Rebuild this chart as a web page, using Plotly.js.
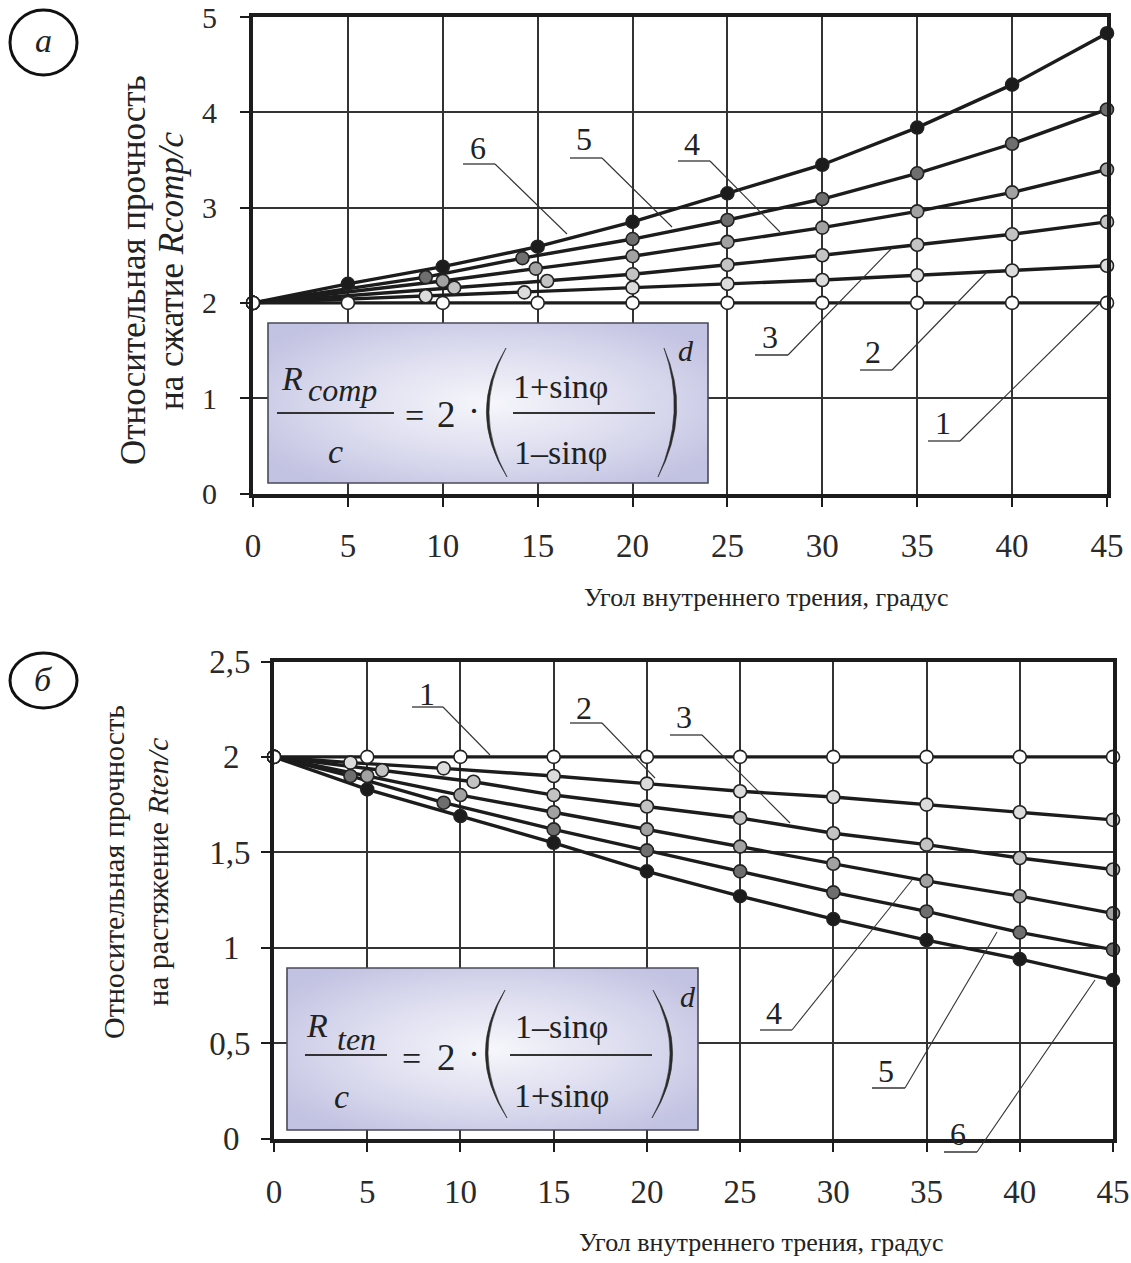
<!DOCTYPE html>
<html>
<head>
<meta charset="utf-8">
<script src="https://cdn.plot.ly/plotly-3.0.1.min.js"></script>
<style>html,body{margin:0;padding:0;background:#fff;}#chart{width:1131px;height:1263px;}</style>
</head>
<body>
<div id="chart"></div>
<script>
// ---------- DATA ----------
const seriesNames = ['1', '2', '3', '4', '5', '6'];
const xTickVals = [0, 5, 10, 15, 20, 25, 30, 35, 40, 45];
const xTickText = ['0', '5', '10', '15', '20', '25', '30', '35', '40', '45'];
const topYTickVals = [0, 1, 2, 3, 4, 5];
const topYTickText = ['0', '1', '2', '3', '4', '5'];
const botYTickVals = [0, 0.5, 1, 1.5, 2, 2.5];
const botYTickText = ['0\u00a0\u200a', '0,5', '1\u00a0\u200a', '1,5', '2\u00a0\u200a', '2,5'];

// (a) compression, R_comp / c
const topX1 = [0, 5, 10, 15, 20, 25, 30, 35, 40, 45];
const topY1 = [2, 2, 2, 2, 2, 2, 2, 2, 2, 2];
const topX2 = [0, 9.1, 14.3, 20, 25, 30, 35, 40, 45];
const topY2 = [2, 2.07, 2.11, 2.16, 2.20, 2.24, 2.29, 2.34, 2.39];
const topX3 = [0, 10.6, 15.5, 20, 25, 30, 35, 40, 45];
const topY3 = [2, 2.16, 2.23, 2.30, 2.40, 2.50, 2.61, 2.72, 2.85];
const topX4 = [0, 10, 14.9, 20, 25, 30, 35, 40, 45];
const topY4 = [2, 2.23, 2.36, 2.49, 2.64, 2.79, 2.96, 3.16, 3.40];
const topX5 = [0, 9.1, 14.2, 20, 25, 30, 35, 40, 45];
const topY5 = [2, 2.27, 2.47, 2.67, 2.87, 3.09, 3.36, 3.67, 4.03];
const topX6 = [0, 5, 10, 15, 20, 25, 30, 35, 40, 45];
const topY6 = [2, 2.20, 2.38, 2.59, 2.85, 3.15, 3.45, 3.84, 4.29, 4.83];

// (б) tension, R_ten / c
const botX1 = [0, 5, 10, 15, 20, 25, 30, 35, 40, 45];
const botY1 = [2, 2, 2, 2, 2, 2, 2, 2, 2, 2];
const botX2 = [0, 4.1, 9.1, 15, 20, 25, 30, 35, 40, 45];
const botY2 = [2, 1.97, 1.94, 1.90, 1.86, 1.82, 1.79, 1.75, 1.71, 1.67];
const botX3 = [0, 5.8, 10.7, 15, 20, 25, 30, 35, 40, 45];
const botY3 = [2, 1.93, 1.87, 1.80, 1.74, 1.68, 1.60, 1.54, 1.47, 1.41];
const botX4 = [0, 5, 10, 15, 20, 25, 30, 35, 40, 45];
const botY4 = [2, 1.90, 1.80, 1.71, 1.62, 1.53, 1.44, 1.35, 1.27, 1.18];
const botX5 = [0, 4.1, 9.1, 15, 20, 25, 30, 35, 40, 45];
const botY5 = [2, 1.90, 1.76, 1.62, 1.51, 1.40, 1.29, 1.19, 1.08, 0.99];
const botX6 = [0, 5, 10, 15, 20, 25, 30, 35, 40, 45];
const botY6 = [2, 1.83, 1.69, 1.55, 1.40, 1.27, 1.15, 1.04, 0.94, 0.83];

// ---------- STYLE ----------
const W = 1131, H = 1263;
const PX = v => v / W;
const PY = v => 1 - v / H;
const FONT = 'Liberation Serif, Times New Roman, serif';
const INK = '#1c1c1c';
const markerFill = ['#ffffff', '#dcdcdc', '#c3c3c3', '#a2a2a2', '#6e6e6e', '#1c1c1c'];

const topXs = [topX1, topX2, topX3, topX4, topX5, topX6];
const topYs = [topY1, topY2, topY3, topY4, topY5, topY6];
const botXs = [botX1, botX2, botX3, botX4, botX5, botX6];
const botYs = [botY1, botY2, botY3, botY4, botY5, botY6];

const traces = [];
function addPanel(xs, ys, xa, ya) {
  for (let i = 5; i >= 0; i--) {
    traces.push({
      type: 'scatter', mode: 'lines', x: xs[i], y: ys[i], xaxis: xa, yaxis: ya,
      name: 'Кривая ' + seriesNames[i], line: {color: INK, width: 3.4},
      cliponaxis: false, hoverinfo: 'skip'
    });
  }
  for (let i = 5; i >= 0; i--) {
    traces.push({
      type: 'scatter', mode: 'markers', x: xs[i], y: ys[i], xaxis: xa, yaxis: ya,
      name: 'Кривая ' + seriesNames[i],
      marker: {size: 13, color: markerFill[i], line: {color: '#222', width: 1.6}},
      cliponaxis: false
    });
  }
}
addPanel(topXs, topYs, 'x', 'y');
addPanel(botXs, botYs, 'x2', 'y2');

const axisCommon = {
  showgrid: true, gridcolor: '#333', gridwidth: 2,
  showline: true, linecolor: INK, linewidth: 4, mirror: true,
  ticks: 'outside', ticklen: 9, tickwidth: 2, tickcolor: INK,
  tickfont: {family: FONT, size: 33, color: '#2a2a2a'},
  ticklabeloverflow: 'allow',
  zeroline: false, fixedrange: true, layer: 'above traces'
};

const layout = {
  width: W, height: H,
  margin: {l: 0, r: 0, t: 0, b: 0},
  paper_bgcolor: '#fff', plot_bgcolor: '#fff',
  showlegend: false,
  font: {family: FONT, color: '#2a2a2a'},
  xaxis: Object.assign({}, axisCommon, {
    domain: [PX(253), PX(1107)], range: [0, 45], anchor: 'y',
    tickmode: 'array', tickvals: xTickVals, ticktext: xTickText, ticklabelstandoff: 11
  }),
  yaxis: Object.assign({}, axisCommon, {
    domain: [PY(493.5), PY(17)], range: [0, 5.0001], anchor: 'x',
    tickfont: {family: FONT, size: 30, color: '#2a2a2a'},
    tickmode: 'array', tickvals: topYTickVals, ticktext: topYTickText, ticklabelstandoff: 17
  }),
  xaxis2: Object.assign({}, axisCommon, {
    domain: [PX(274), PX(1113)], range: [0, 45], anchor: 'y2',
    tickmode: 'array', tickvals: xTickVals, ticktext: xTickText, ticklabelstandoff: 12
  }),
  yaxis2: Object.assign({}, axisCommon, {
    domain: [PY(1138.5), PY(661.5)], range: [0, 2.50001], anchor: 'x2',
    tickmode: 'array', tickvals: botYTickVals, ticktext: botYTickText, ticklabelstandoff: 4
  }),
  shapes: [],
  annotations: [],
  images: []
};

function txt(s, x, y, size, opts) {
  layout.annotations.push(Object.assign({
    text: s, xref: 'paper', yref: 'paper', x: PX(x), y: PY(y),
    xanchor: 'center', yanchor: 'middle', showarrow: false,
    font: {family: FONT, size: size, color: '#222'}
  }, opts || {}));
}
function seg(x0, y0, x1, y1, w, c) {
  layout.shapes.push({type: 'line', xref: 'paper', yref: 'paper', layer: 'above',
    x0: PX(x0), y0: PY(y0), x1: PX(x1), y1: PY(y1), line: {color: c || '#333', width: w || 1.2}});
}
function paren(xt, yt, xe, xb, yb, dir) {
  const cy = (yt + yb) / 2;
  const cOut = 2 * xe - (xt + xb) / 2;
  const cIn = 2 * (xe - dir * 2.6) - (xt + xb) / 2;
  const p = 'M ' + PX(xt) + ' ' + PY(yt) + ' Q ' + PX(cOut) + ' ' + PY(cy) + ' ' + PX(xb) + ' ' + PY(yb) +
            ' Q ' + PX(cIn) + ' ' + PY(cy) + ' ' + PX(xt) + ' ' + PY(yt) + ' Z';
  layout.shapes.push({type: 'path', xref: 'paper', yref: 'paper', layer: 'above', path: p,
    fillcolor: '#2a2a2a', line: {color: '#2a2a2a', width: 0.6}});
}
function box(x0, y0, x1, y1) {
  const w = x1 - x0, h = y1 - y0;
  const svg = "<svg xmlns='http://www.w3.org/2000/svg' width='" + w + "' height='" + h + "' viewBox='0 0 " + w + " " + h + "' preserveAspectRatio='none'>" +
    "<defs><radialGradient id='g' cx='50%' cy='50%' r='62%'><stop offset='0' stop-color='#f6f6fb'/>" +
    "<stop offset='0.55' stop-color='#dcdcef'/><stop offset='1' stop-color='#c2c2e2'/></radialGradient></defs>" +
    "<rect x='0' y='0' width='" + w + "' height='" + h + "' fill='url(#g)'/></svg>";
  layout.images.push({source: 'data:image/svg+xml;charset=utf-8,' + encodeURIComponent(svg),
    xref: 'paper', yref: 'paper', x: PX(x0), y: PY(y0), sizex: w / W, sizey: h / H,
    xanchor: 'left', yanchor: 'top', sizing: 'stretch', layer: 'above'});
  layout.shapes.push({type: 'rect', xref: 'paper', yref: 'paper', layer: 'above',
    x0: PX(x0), y0: PY(y0), x1: PX(x1), y1: PY(y1), fillcolor: 'rgba(0,0,0,0)',
    line: {color: '#4a4a5a', width: 1.6}});
}

// ---- panel (а) decorations ----
layout.shapes.push({type: 'circle', xref: 'paper', yref: 'paper', x0: PX(10), x1: PX(77), y0: PY(75), y1: PY(10),
  line: {color: '#111', width: 3}});
txt('<i>а</i>', 43, 40, 34);
txt('Относительная прочность', 133, 270, 35, {textangle: -90});
txt('на сжатие <i>Rcomp/c</i>', 172, 271, 35, {textangle: -90});
txt('Угол внутреннего трения, градус', 766, 598, 26);

box(268, 323, 708, 483);
txt('<i>R</i>', 292, 378, 34);
txt('<i>comp</i>', 342, 390, 32);
seg(277, 413, 394, 413, 2, '#333');
txt('<i>c</i>', 335, 452, 34);
txt('=', 414, 415, 34);
txt('2', 446, 414, 37);
txt('·', 474, 411, 36);
paren(506, 348, 489, 507, 477, 1);
paren(664, 348, 674, 658, 477, -1);
txt('1+sinφ', 560, 386, 34);
seg(513, 413, 655, 413, 2, '#333');
txt('1–sinφ', 560, 453, 34);
txt('<i>d</i>', 686, 350, 30);

const topLabels = [
  ['6', 478, 148, 463, 495, 164, 567, 234],
  ['5', 584, 139, 570, 602, 158, 672, 227],
  ['4', 692, 144, 678, 710, 161, 780, 232],
  ['3', 770, 337, 755, 788, 355, 892, 248],
  ['2', 873, 352, 860, 892, 370, 987, 272],
  ['1', 943, 423, 928, 960, 441, 1100, 303]
];
// ---- panel (б) decorations ----
layout.shapes.push({type: 'circle', xref: 'paper', yref: 'paper', x0: PX(10), x1: PX(77), y0: PY(708), y1: PY(653),
  line: {color: '#111', width: 3}});
txt('<i>б</i>', 43, 679, 34);
txt('Относительная прочность', 113, 872, 30, {textangle: -90});
txt('на растяжение <i>Rten/c</i>', 157, 872, 30, {textangle: -90});
txt('Угол внутреннего трения, градус', 761, 1242, 26);

box(287, 968, 698, 1130);
txt('<i>R</i>', 317, 1025, 34);
txt('<i>ten</i>', 356, 1039, 32);
seg(305, 1055, 387, 1055, 2, '#333');
txt('<i>c</i>', 341, 1096, 34);
txt('=', 411, 1058, 34);
txt('2', 446, 1057, 37);
txt('·', 474, 1054, 36);
paren(505, 990, 488, 507, 1118, 1);
paren(653, 990, 670, 652, 1118, -1);
txt('1–sinφ', 561, 1026, 34);
seg(510, 1055, 652, 1055, 2, '#333');
txt('1+sinφ', 561, 1095, 34);
txt('<i>d</i>', 688, 996, 30);

const botLabels = [
  ['1', 427, 694, 412, 443, 707, 490, 755],
  ['2', 584, 708, 570, 602, 723, 655, 778],
  ['3', 684, 717, 670, 702, 735, 790, 823],
  ['4', 774, 1013, 760, 792, 1030, 912, 880],
  ['5', 886, 1071, 872, 905, 1088, 997, 932],
  ['6', 958, 1134, 944, 977, 1152, 1095, 980]
];
topLabels.concat(botLabels).forEach(l => {
  txt(l[0], l[1], l[2], 32);
  seg(l[3], l[5], l[4], l[5], 1.3, '#333');
  seg(l[4], l[5], l[6], l[7], 1.1, '#333');
});

Plotly.newPlot('chart', traces, layout, {displayModeBar: false, staticPlot: true});
</script>
</body>
</html>
